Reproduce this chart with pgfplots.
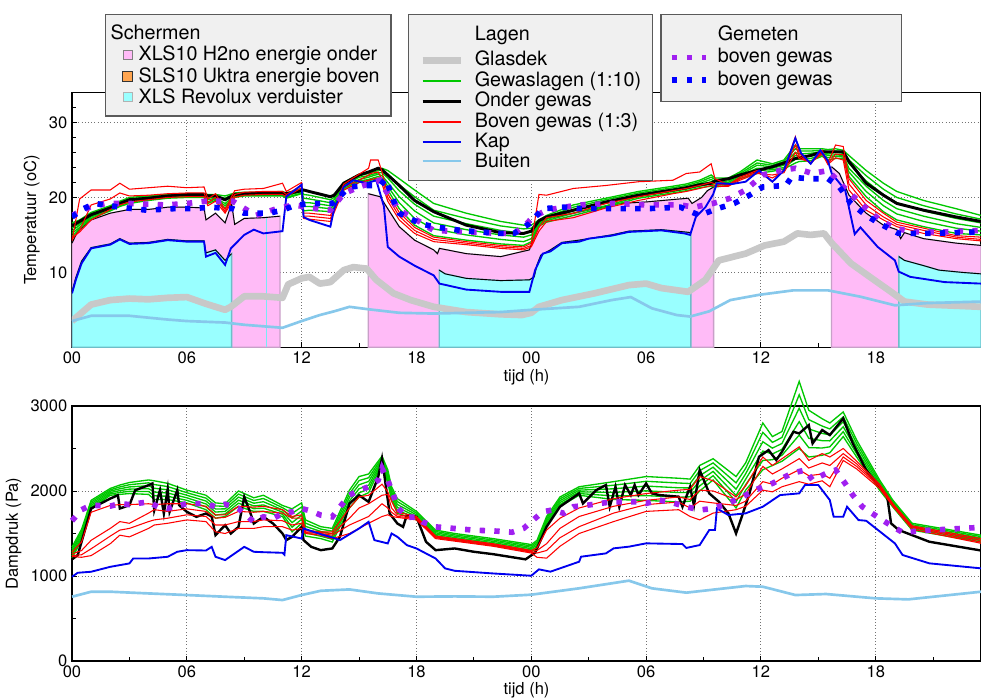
\documentclass[border=0pt]{standalone}
\usepackage{fontspec}
\setmainfont{TeX Gyre Heros}
\usepackage{pgfplots}
\usepackage{pgfplotstable}
\pgfplotsset{compat=1.18}

\definecolor{pinkfill}{RGB}{255,187,247}
\definecolor{pinkedge}{RGB}{200,160,200}
\definecolor{cyanfill}{RGB}{153,255,255}
\definecolor{cyanedge}{RGB}{110,190,200}
\definecolor{cyanthin}{RGB}{120,235,245}
\definecolor{orangefill}{RGB}{255,165,80}
\definecolor{grn}{RGB}{0,200,0}
\definecolor{skyb}{RGB}{135,200,235}
\definecolor{glas}{RGB}{200,200,200}
\definecolor{purp}{RGB}{160,32,240}
\definecolor{kapblue}{RGB}{0,0,240}
\definecolor{legfill}{RGB}{240,240,240}
\definecolor{legdraw}{RGB}{90,90,90}

\newcommand\legfont{\fontsize{14.8}{15.3}\selectfont}
\newcommand\tickfont{\fontsize{12.4}{14}\selectfont}

% ---------- top plot: crop layers (green), onder gewas, boven gewas (red) ----------
\pgfplotstableread{
t g1 g2 g3 g4 g5 g6 on r1 r2 r3
0.0 16.6 16.2 15.9 15.5 15.2 14.8 16.2 14.2 14.4 14.6
0.4 17.0 16.8 16.5 16.3 16.0 15.8 16.8 19.8 15.6 15.4
1.0 18.0 17.8 17.7 17.5 17.4 17.2 17.7 21.0 19.0 17.0
2.0 18.9 18.8 18.6 18.5 18.3 18.2 18.6 21.0 19.8 18.4
2.5 19.5 19.4 19.2 19.1 18.9 18.8 19.2 21.9 20.6 19.0
3.0 20.0 19.8 19.7 19.5 19.4 19.2 19.7 21.1 20.2 19.4
4.0 20.2 20.1 20.0 19.8 19.7 19.6 19.9 21.3 20.3 19.7
5.0 20.4 20.3 20.2 20.1 20.0 19.9 20.2 21.5 20.5 20.0
6.0 20.5 20.4 20.3 20.2 20.1 20.0 20.4 21.3 20.6 20.1
6.9 20.5 20.4 20.3 20.2 20.1 20.0 20.4 21.4 20.6 20.1
7.1 20.4 20.2 19.9 19.7 19.4 19.2 20.2 19.8 19.3 18.9
7.5 20.4 20.2 20.1 19.9 19.8 19.6 20.2 20.5 20.0 19.5
8.0 20.2 19.9 19.6 19.2 18.9 18.6 19.7 18.4 18.1 17.9
8.5 20.6 20.5 20.4 20.2 20.1 20.0 20.4 20.9 20.4 20.0
9.0 20.7 20.6 20.5 20.4 20.3 20.2 20.5 21.1 20.7 20.3
10.0 20.7 20.6 20.5 20.4 20.3 20.2 20.5 21.2 20.8 20.4
11.0 20.8 20.7 20.6 20.4 20.3 20.2 20.5 21.9 20.8 20.4
11.2 20.6 20.5 20.3 20.2 20.0 19.9 20.5 20.8 20.4 20.1
12.0 21.2 21.1 20.9 20.8 20.6 20.5 20.9 22.0 21.6 21.3
12.1 21.0 20.4 19.9 19.3 18.8 18.2 21.0 17.9 17.5 17.2
12.4 20.8 20.3 19.8 19.3 18.8 18.3 20.8 17.9 17.5 17.1
13.5 20.1 19.7 19.3 18.9 18.5 18.1 20.1 17.6 17.2 16.8
13.7 20.3 20.0 19.7 19.3 19.0 18.7 20.3 18.5 18.3 18.0
14.2 22.0 21.8 21.6 21.4 21.2 21.0 21.9 21.8 21.4 21.0
15.0 23.1 22.9 22.7 22.4 22.2 22.0 23.0 23.1 22.3 22.0
15.5 23.4 23.2 22.9 22.7 22.4 22.2 23.4 23.9 23.0 22.3
15.6 23.5 23.3 23.0 22.8 22.5 22.3 23.5 25.0 23.2 22.4
16.0 23.9 23.6 23.3 23.1 22.8 22.5 23.9 25.0 23.4 22.6
16.2 23.9 23.6 23.3 22.9 22.6 22.3 23.7 23.4 22.4 21.8
16.5 23.6 23.1 22.6 22.0 21.5 21.0 23.0 20.5 20.0 19.5
17.1 22.5 21.7 20.9 20.1 19.3 18.5 21.6 18.0 17.5 17.0
17.9 21.0 20.1 19.1 18.2 17.2 16.3 19.6 16.0 15.6 15.2
18.9 19.2 18.3 17.5 16.6 15.8 14.9 18.1 14.7 14.4 14.1
20.6 17.9 17.2 16.5 15.7 15.0 14.3 16.3 14.1 13.9 13.7
22.4 16.8 16.2 15.6 15.0 14.4 13.8 15.3 13.6 13.4 13.2
23.6 16.3 15.8 15.2 14.7 14.1 13.6 15.2 13.4 13.2 13.0
24.0 16.3 15.9 15.4 15.0 14.5 14.1 15.5 13.9 13.6 13.4
24.4 17.0 16.8 16.7 16.5 16.4 16.2 16.9 20.4 16.0 15.5
24.8 17.6 17.4 17.2 17.1 16.9 16.7 17.4 20.3 17.3 16.8
26.2 19.0 18.7 18.4 18.2 17.9 17.6 18.3 21.2 17.9 17.3
27.9 19.9 19.7 19.4 19.2 18.9 18.7 19.4 21.6 19.2 18.6
29.6 20.8 20.6 20.4 20.3 20.1 19.9 20.3 22.1 20.1 19.6
31.4 21.5 21.3 21.1 21.0 20.8 20.6 21.0 22.3 20.9 20.5
32.1 21.8 21.6 21.4 21.3 21.1 20.9 21.3 23.2 21.2 20.8
32.8 22.3 22.1 21.9 21.7 21.5 21.3 21.7 23.4 21.6 21.2
33.4 23.0 22.7 22.4 22.1 21.8 21.5 21.9 24.5 22.0 21.6
33.6 22.6 22.4 22.1 21.9 21.6 21.4 22.2 22.5 21.8 21.5
34.3 22.6 22.4 22.2 22.0 21.8 21.6 22.5 21.7 21.6 21.5
34.9 23.4 23.2 23.0 22.9 22.7 22.5 23.0 22.7 22.5 22.3
35.8 25.0 24.6 24.3 23.9 23.6 23.2 23.6 23.6 23.4 23.2
36.6 24.5 24.3 24.1 23.9 23.7 23.5 24.1 22.1 22.6 23.0
37.2 25.0 24.8 24.5 24.3 24.0 23.8 24.6 23.7 23.5 23.3
37.8 27.0 26.5 26.0 25.6 25.1 24.6 25.2 28.1 27.0 26.0
38.0 26.5 26.2 25.8 25.5 25.1 24.8 25.3 25.9 25.5 25.2
38.6 26.5 26.2 25.9 25.5 25.2 24.9 25.6 24.5 24.6 24.7
39.2 26.5 26.3 26.1 25.9 25.7 25.5 26.1 26.3 26.0 25.8
39.5 26.4 26.1 25.8 25.6 25.3 25.0 26.1 24.6 24.5 24.4
39.9 26.5 26.2 26.0 25.7 25.5 25.2 26.1 27.0 25.8 25.3
40.3 26.3 26.1 25.9 25.6 25.4 25.2 26.1 26.8 25.7 25.0
40.6 25.6 25.0 24.5 23.9 23.4 22.8 24.8 22.5 21.8 21.0
41.5 23.6 22.9 22.2 21.5 20.8 20.1 21.9 19.6 19.0 18.3
42.4 21.9 21.1 20.4 19.6 18.9 18.1 20.3 17.9 17.4 17.0
43.1 20.8 20.0 19.3 18.5 17.8 17.0 19.2 16.7 16.4 16.1
44.5 19.6 18.9 18.2 17.5 16.8 16.1 18.3 15.9 15.6 15.2
46.2 18.5 17.8 17.2 16.5 15.9 15.2 17.4 14.9 14.7 14.5
47.5 17.6 17.1 16.6 16.0 15.5 15.0 16.8 14.7 14.4 14.2
}\topc

% ---------- bottom plot: crop layers (green), boven gewas (red) ----------
\pgfplotstableread{
t g1 g2 g3 g4 g5 g6 r1 r2 r3 r4
0.0 1340 1314 1288 1262 1236 1210 1280 1260 1240 1230
0.5 1550 1524 1498 1472 1446 1420 1400 1300 1250 1220
1.0 1890 1870 1850 1830 1810 1790 1750 1420 1320 1240
2.0 2030 2014 1998 1982 1966 1950 1830 1560 1470 1380
2.5 2070 2048 2026 2004 1982 1960 1840 1640 1540 1480
3.0 2100 2074 2048 2022 1996 1970 1840 1620 1560 1460
4.0 2130 2096 2062 2028 1994 1960 1850 1740 1640 1560
4.3 2120 2076 2032 1988 1944 1900 1840 1780 1660 1600
5.0 2090 2052 2014 1976 1938 1900 1850 1760 1680 1620
6.0 2010 1980 1950 1920 1890 1860 1850 1790 1720 1660
7.0 1950 1916 1882 1848 1814 1780 1820 1760 1700 1640
7.5 1860 1824 1788 1752 1716 1680 1720 1680 1600 1520
8.0 1850 1820 1790 1760 1730 1700 1720 1690 1600 1500
8.7 2000 1964 1928 1892 1856 1820 1820 1760 1640 1560
9.5 1920 1888 1856 1824 1792 1760 1810 1750 1640 1560
10.0 1950 1912 1874 1836 1798 1760 1820 1760 1660 1580
11.0 1830 1804 1778 1752 1726 1700 1780 1740 1650 1580
11.5 1790 1736 1682 1628 1574 1520 1700 1680 1600 1540
12.0 1860 1812 1764 1716 1668 1620 1720 1680 1620 1560
12.2 1660 1622 1584 1546 1508 1470 1540 1520 1510 1500
13.0 1580 1552 1524 1496 1468 1440 1520 1510 1500 1480
13.6 1560 1528 1496 1464 1432 1400 1520 1500 1480 1440
14.5 2010 1968 1926 1884 1842 1800 1800 1680 1600 1500
15.0 2170 2122 2074 2026 1978 1930 1930 1800 1650 1560
15.5 2200 2156 2112 2068 2024 1980 1950 1850 1700 1620
16.2 2410 2392 2374 2356 2338 2320 2080 1950 1850 1700
16.5 2250 2220 2190 2160 2130 2100 1990 1960 1800 1720
16.7 2050 2018 1986 1954 1922 1890 1880 1800 1750 1700
17.0 1910 1876 1842 1808 1774 1740 1750 1720 1700 1690
18.0 1760 1740 1720 1700 1680 1660 1700 1690 1680 1660
19.0 1540 1524 1508 1492 1476 1460 1470 1460 1450 1440
20.0 1500 1484 1468 1452 1436 1420 1440 1430 1420 1410
22.0 1440 1424 1408 1392 1376 1360 1380 1370 1360 1350
24.0 1370 1354 1338 1322 1306 1290 1300 1290 1280 1270
24.3 1420 1400 1380 1360 1340 1320 1330 1300 1270 1220
24.8 1700 1676 1652 1628 1604 1580 1540 1380 1300 1210
25.5 1930 1908 1886 1864 1842 1820 1680 1560 1450 1350
26.5 2050 2030 2010 1990 1970 1950 1800 1700 1580 1500
28.3 2110 2068 2026 1984 1942 1900 1910 1820 1740 1640
30.0 2170 2114 2058 2002 1946 1890 1970 1890 1840 1760
31.7 2150 2094 2038 1982 1926 1870 2010 1930 1870 1780
32.3 2140 2088 2036 1984 1932 1880 2020 1900 1800 1700
32.8 2300 2240 2180 2120 2060 2000 2170 2010 1880 1660
33.5 2380 2330 2280 2230 2180 2130 2120 2000 1860 1740
34.7 2170 2096 2022 1948 1874 1800 1930 1900 1830 1780
35.2 2330 2266 2202 2138 2074 2010 2060 1960 1880 1820
36.1 2800 2690 2580 2470 2360 2250 2400 2290 2110 2010
36.6 2640 2572 2504 2436 2368 2300 2300 2200 2080 1990
37.1 2700 2630 2560 2490 2420 2350 2380 2260 2150 2050
38.0 3290 3132 2974 2816 2658 2500 2520 2380 2250 2110
38.5 2950 2840 2730 2620 2510 2400 2360 2270 2180 2080
39.2 2850 2764 2678 2592 2506 2420 2440 2330 2200 2120
39.6 2800 2730 2660 2590 2520 2450 2400 2300 2150 2050
40.3 2930 2872 2814 2756 2698 2640 2500 2440 2400 2360
41.0 2600 2560 2520 2480 2440 2400 2350 2320 2290 2260
42.2 2130 2106 2082 2058 2034 2010 2080 2060 2050 2030
42.9 1890 1874 1858 1842 1826 1810 1850 1840 1830 1820
43.9 1620 1604 1588 1572 1556 1540 1590 1580 1570 1550
47.5 1480 1464 1448 1432 1416 1400 1440 1420 1400 1385
}\botc

\pgfplotsset{
  chart/.style={
    scale only axis, width=681.75pt, xmin=0, xmax=47.5,
    anchor=south west,
    xtick={0,6,...,42}, xticklabels={00,06,12,18,00,06,12,18},
    minor xtick={3,9,...,45},
    xmajorgrids, ymajorgrids,
    grid style={dotted, line width=0.7pt, black!55},
    tick pos=left, tick align=inside,
    major tick length=4pt, minor tick length=3pt,
    tick style={black, line width=0.7pt},
    axis line style={line width=0.8pt},
    tick label style={font=\tickfont},
    label style={font=\tickfont},
    /pgf/number format/assume math mode=true,
    /pgf/number format/1000 sep={},
    xlabel={tijd (h)},
    xlabel style={yshift=3pt},
  },
  dots/.style={line width=4.2pt, dash pattern=on 4pt off 7pt},
  legbox/.style={hide axis, scale only axis, at={(0pt,0pt)}, anchor=south west,
    width=735.75pt, height=524.25pt, xmin=0, xmax=1, ymin=0, ymax=1,
    legend cell align=left,
    legend style={anchor=north west, fill=legfill, draw=legdraw, line width=1.1pt,
      font=\legfont, row sep=0pt, nodes={inner sep=0.6pt, text depth=}}},
}

\begin{document}
\begin{tikzpicture}
\path[use as bounding box] (0pt,0pt) rectangle (735.75pt,524.25pt);

% ================= TOP AXIS =================
\begin{axis}[chart, at={(54pt,263.8pt)}, height=191pt, ymin=0, ymax=34,
  ytick={10,20,30}, minor ytick={2,4,...,32},
  ylabel={Temperatuur (oC)}]
% screens: energie onder (pink) up to its temperature line
\addplot[fill=pinkfill, draw=pinkedge, line width=1pt] coordinates {
(0,13.9) (0.3,15.5) (1,17.0) (2,17.9) (3,18.4) (4,18.4) (5,18.7) (6,18.7) (6.9,18.6)
(7,17.0) (7.5,17.9) (8,16.6) (8.34,19.2) (8.5,16.4) (9,17.2) (10,17.3) (10.87,17.5)} \closedcycle;
\addplot[fill=pinkfill, draw=pinkedge, line width=1pt] coordinates {
(15.48,20.5) (16.1,20.1) (16.5,18.5) (17.1,16.1) (17.9,14.3) (18.9,13.0) (19.1,12.5)
(19.2,13.2) (20.6,12.5) (22.4,12.1) (23.9,13.0) (24.3,16.0) (24.5,17.0) (26.2,17.9)
(28.6,19.2) (30,19.4) (32.2,19.9) (32.4,19.2) (32.9,20.0) (33.2,20.9) (33.53,21.4)} \closedcycle;
\addplot[fill=pinkfill, draw=pinkedge, line width=1pt] coordinates {
(39.69,24.1) (40.1,23.2) (40.6,20.3) (41.5,17.9) (42.4,16.3) (43.1,15.7) (43.3,14.5)
(43.5,15.3) (44.5,14.5) (46.2,13.9) (47.5,13.6)} \closedcycle;
% screens: verduister (cyan) up to its temperature line
\addplot[fill=cyanfill, draw=cyanedge, line width=1pt] coordinates {
(0,7.4) (0.2,9.3) (0.5,11.5) (1,13.3) (2,13.8) (2.5,14.5) (3,13.9) (4,14.0) (5,14.4)
(6,14.2) (6.9,14.2) (7,12.6) (7.5,13.0) (8,11.6) (8.34,12.5)} \closedcycle;
\addplot[fill=cyanfill, draw=cyanedge, line width=1pt] coordinates {
(19.19,10.3) (19.5,9.8) (20.6,9.2) (22.4,8.9) (23.9,9.0) (24.15,9.4) (24.3,11.0)
(24.5,12.3) (25.0,13.0) (25.6,14.0) (26.5,14.3) (28.2,15.0) (29.1,15.5) (30.8,15.7)
(32.0,15.4) (32.34,15.3)} \closedcycle;
\addplot[fill=cyanfill, draw=cyanedge, line width=1pt] coordinates {
(43.21,12.1) (43.5,11.6) (44.5,10.9) (45.3,10.3) (46.5,10.0) (47.5,9.8)} \closedcycle;
\addplot[cyanthin, line width=1.2pt] coordinates {(10.17,0) (10.17,17.3)};
% screen temperature lines (thin black)
\addplot[black, line width=0.7pt] coordinates {
(0,13.9) (0.3,15.5) (1,17.0) (2,17.9) (3,18.4) (4,18.4) (5,18.7) (6,18.7) (6.9,18.6)
(7,17.0) (7.5,17.9) (8,16.6) (8.34,19.2) (8.5,16.4) (9,17.2) (10,17.3) (10.87,17.5)};
\addplot[black, line width=0.7pt] coordinates {
(15.48,20.5) (16.1,20.1) (16.5,18.5) (17.1,16.1) (17.9,14.3) (18.9,13.0) (19.1,12.5)
(19.2,13.2) (20.6,12.5) (22.4,12.1) (23.9,13.0) (24.3,16.0) (24.5,17.0) (26.2,17.9)
(28.6,19.2) (30,19.4) (32.2,19.9) (32.4,19.2) (32.9,20.0) (33.2,20.9) (33.53,21.4)};
\addplot[black, line width=0.7pt] coordinates {
(39.69,24.1) (40.1,23.2) (40.6,20.3) (41.5,17.9) (42.4,16.3) (43.1,15.7) (43.3,14.5)
(43.5,15.3) (44.5,14.5) (46.2,13.9) (47.5,13.6)};
\addplot[black, line width=0.7pt] coordinates {
(0,7.4) (0.2,9.3) (0.5,11.5) (1,13.3) (2,13.8) (2.5,14.5) (3,13.9) (4,14.0) (5,14.4)
(6,14.2) (6.9,14.2) (7,12.6) (7.5,13.0) (8,11.6) (8.34,12.5)};
\addplot[black, line width=0.7pt] coordinates {
(19.19,10.3) (19.5,9.8) (20.6,9.2) (22.4,8.9) (23.9,9.0) (24.15,9.4) (24.3,11.0)
(24.5,12.3) (25.0,13.0) (25.6,14.0) (26.5,14.3) (28.2,15.0) (29.1,15.5) (30.8,15.7)
(32.0,15.4) (32.34,15.3)};
\addplot[black, line width=0.7pt] coordinates {
(43.21,12.1) (43.5,11.6) (44.5,10.9) (45.3,10.3) (46.5,10.0) (47.5,9.8)};
% Glasdek
\addplot[glas, line width=5pt, line join=round] coordinates {
(0,3.5) (0.5,4.6) (1,5.7) (2,6.3) (3,6.5) (4,6.4) (5,6.6) (6,6.7) (7,5.8) (8,5.0)
(8.3,5.4) (9,6.8) (10,6.8) (11,6.6) (11.3,8.4) (12,9.2) (12.4,9.4) (12.95,8.5) (13.5,8.7)
(14.2,10.3) (14.7,10.7) (15.4,10.5) (15.9,9.0) (16.8,7.2) (17.7,6.3) (18.9,5.4) (20.6,4.7)
(22.4,4.4) (23.5,4.3) (24,4.6) (24.4,5.4) (25.6,6.3) (27.3,7.2) (29.1,8.3) (30,8.5)
(30.8,7.9) (32.2,7.4) (33.1,9.0) (33.8,11.6) (35.2,12.5) (36.2,13.6) (37.2,14.1)
(37.9,15.2) (38.6,15.0) (39.3,15.2) (39.7,13.9) (40.7,11.2) (41.8,9.2) (42.8,7.4)
(43.5,6.1) (44.7,5.7) (47.5,5.4)};
% Buiten
\addplot[skyb, line width=2pt] coordinates {
(0,3.5) (1,4.2) (3,4.2) (5,3.7) (6,3.5) (8,3.3) (9,3.0) (10,2.8) (11,2.6) (12,3.5)
(12.95,4.3) (13.7,4.8) (14.5,5.4) (15.4,5.1) (17.1,4.6) (18.9,4.5) (20.6,4.6) (22.4,4.7)
(24,5.0) (26.5,5.4) (28.2,6.3) (29.2,6.7) (30.3,5.2) (31.6,4.3) (32.3,4.1) (33.3,4.8)
(34.4,6.3) (35.9,7.0) (37.7,7.6) (39.5,7.6) (41.2,6.75) (43,5.6) (44.7,5.9) (47.5,6.1)};
% Gewaslagen
\pgfplotsinvokeforeach{g6,g5,g4,g3,g2,g1}{
  \addplot[grn, line width=1pt] table[x=t, y=#1] {\topc};
}
% Onder gewas
\addplot[black, line width=2.2pt] table[x=t, y=on] {\topc};
% Boven gewas
\pgfplotsinvokeforeach{r3,r2,r1}{
  \addplot[red, line width=0.8pt] table[x=t, y=#1] {\topc};
}
% Kap
\addplot[kapblue, line width=1.4pt] coordinates {
(0,7.2) (0.2,9.0) (0.5,11.2) (1,13.2) (2,13.7) (2.5,14.4) (3,13.8) (4,13.9) (5,14.3)
(6,14.1) (6.9,14.1) (7,12.1) (7.5,12.6) (8,11.0) (8.3,13.2) (9,15.0) (9.5,15.7) (10,15.2)
(11,15.5) (11.2,20.1) (12,21.7) (12.1,17.4) (12.4,17.0) (13.5,16.1) (13.7,18.5) (14.2,21.4)
(14.7,22.3) (15.4,21.9) (15.9,22.3) (16.3,18.8) (16.5,13.4) (17.1,12.1) (17.9,10.9)
(18.9,9.6) (19.2,8.5) (20.6,7.7) (22.4,7.4) (23.9,7.4) (24.2,10.3) (24.6,12.5) (25.0,12.8)
(25.6,13.9) (26.5,14.1) (27,14.5) (28.2,14.9) (29.1,15.4) (30.8,15.6) (32.0,15.2)
(32.3,15.0) (32.6,17.4) (33.1,18.7) (33.5,20.4) (33.7,21.9) (34.5,21.8) (35.2,22.1)
(35.9,23.6) (36.6,22.1) (37.2,23.6) (37.8,27.9) (38.1,25.9) (38.6,24.5) (39.1,26.3)
(39.5,24.9) (39.7,23.2) (40.4,21.0) (40.9,15.1) (41.2,16.0) (42.1,13.4) (43.0,11.6)
(43.2,10.1) (43.8,9.4) (45.6,8.7) (47.5,8.5)};
% Gemeten (purple)
\addplot[purp, dots] coordinates {
(0,17.6) (1,18.8) (1.8,19.2) (3,19.2) (4.9,19.0) (6,19.2) (7,19.5) (8.4,19.5) (9.6,17.6)
(10.7,18.5) (11.6,19.0) (12.8,18.5) (13.5,18.3) (14.2,20.5) (15.0,21.4) (16.1,22.3)
(16.4,20.9) (17.1,18.3) (18.2,16.7) (18.9,15.6) (20.6,15.4) (22.4,15.2) (23.1,15.2)
(23.6,16.1) (24.1,17.4) (24.8,18.3) (25.7,18.7) (26.5,19.0) (28.3,19.2) (30,19.0)
(31.8,19.0) (32.5,18.7) (33.5,19.2) (34.4,19.9) (35.2,21.0) (36.1,23.0) (37.0,23.6)
(37.8,23.9) (38.7,23.2) (39.5,23.6) (40.4,21.2) (41.3,19.0) (42.2,17.0) (43.0,15.9)
(43.9,15.4) (45.6,15.4) (47.5,15.6)};
% Gemeten (blue)
\addplot[blue, dots] coordinates {
(0,17.4) (0.6,18.5) (1.2,19.2) (2.5,18.7) (3.9,18.3) (5.3,18.5) (6.3,18.5) (7.2,18.7)
(8.4,18.5) (9.0,17.9) (10.3,17.9) (11.0,18.3) (11.6,18.9) (12.4,19.2) (13.6,19.2)
(14.5,21.4) (15.4,21.6) (16.1,21.6) (16.4,22.5) (16.8,19.6) (17.1,17.9) (18.2,16.5)
(18.9,16.1) (20.3,15.6) (22.4,15.2) (23.1,15.2) (23.9,16.5) (24.6,18.5) (25.7,18.7)
(26.5,18.5) (28.3,18.5) (30,18.5) (31.8,18.7) (32.8,17.6) (33.7,18.5) (34.6,19.2)
(35.4,20.3) (36.1,21.4) (37.3,21.6) (37.6,22.7) (38.5,22.5) (39.5,22.5) (40.1,21.4)
(40.7,19.2) (41.5,17.6) (42.2,16.5) (43.2,15.2) (44.8,15.2) (47.5,15.4)};
\end{axis}

% ================= BOTTOM AXIS =================
\begin{axis}[chart, at={(54pt,28.5pt)}, height=191.25pt, ymin=0, ymax=3000,
  ytick={0,1000,2000,3000}, minor ytick={500,1500,2500},
  ylabel={Dampdruk (Pa)}, clip=false]
% Buiten
\addplot[skyb, line width=2pt] coordinates {
(0,756) (1,815) (2,815) (4,795) (6,776) (8,756) (10,737) (11,717) (12,776) (13,826)
(14.5,842) (16,795) (18,756) (20,760) (22,756) (24,780) (26.5,855) (29.1,945) (30.3,855)
(32.1,804) (35.2,882) (36.1,874) (37.8,776) (39.4,788) (42,737) (43.7,725) (47.5,815)};
% Gewaslagen
\pgfplotsinvokeforeach{g6,g5,g4,g3,g2,g1}{
  \addplot[grn, line width=1pt] table[x=t, y=#1] {\botc};
}
% Onder gewas
\addplot[black, line width=1.8pt] coordinates {
(0,1195) (0.3,1246) (1,1794) (2,1911) (2.4,1950) (2.5,1794) (3,1833) (3.3,2009) (4,2068)
(4.2,2088) (4.3,1774) (4.6,2009) (4.8,1735) (5,2020) (5.1,1755) (5.5,2009) (5.6,1833)
(6,1755) (6.5,1696) (7,1735) (7.3,1700) (7.5,1481) (8,1598) (8.3,1500) (8.7,1578)
(9,1931) (9.3,1755) (9.5,1618) (10,1696) (10.5,1618) (11,1500) (11.2,1422) (11.5,1461)
(12,1578) (12.1,1422) (12.5,1343) (13,1304) (13.6,1324) (14,1461) (14.5,1853) (15,1950)
(15.5,1872) (16,2166) (16.2,2382) (16.6,1735) (17,1618) (17.3,1578) (17.5,1716) (18,1696)
(18.5,1402) (19,1304) (20,1324) (21,1285) (22,1257) (23.7,1196) (24.2,1274) (24.8,1580)
(25.5,1815) (26.5,1972) (26.7,1854) (27.4,2011) (27.9,2070) (28.1,1815) (28.4,2050)
(28.6,1815) (28.9,2070) (29.2,1952) (29.4,2070) (29.6,1952) (30,2089) (30.3,1972)
(30.7,1952) (31.7,1933) (31.9,1815) (32.3,2050) (32.5,1830) (32.8,2246) (33.3,1972)
(33.8,1874) (34.3,1737) (34.7,1501) (35,1697) (35.4,1972) (35.9,2403) (36.4,2481)
(36.8,2364) (37.1,2462) (37.7,2697) (38,2677) (38.5,2775) (38.7,2560) (39.2,2717)
(39.6,2658) (40.3,2854) (40.8,2560) (41.5,2246) (42.2,2050) (42.6,1933) (42.8,1619)
(43.2,1541) (44.8,1403) (47.5,1300)};
% Boven gewas
\pgfplotsinvokeforeach{r4,r3,r2,r1}{
  \addplot[red, line width=0.8pt] table[x=t, y=#1] {\botc};
}
% Kap
\addplot[kapblue, line width=1.4pt] coordinates {
(0,991) (0.3,1038) (1,1050) (2,1108) (3,1148) (3.2,1206) (4,1206) (5,1226) (5.5,1285)
(6,1304) (7,1300) (7.3,1343) (7.5,1226) (8,1187) (8.5,1265) (9,1343) (9.5,1285)
(10,1280) (11,1273) (11.1,1250) (11.2,1480) (12,1441) (12.1,1559) (13,1492) (13.6,1453)
(14,1422) (15,1559) (15.5,1637) (15.8,1422) (16.5,1383) (16.7,1500) (17,1461) (17.5,1363)
(18,1324) (19,1206) (19.5,1089) (20,1061) (22,1030) (24,1003) (24.4,1078) (25,1051)
(26.5,1168) (26.6,1227) (27.9,1266) (28.3,1325) (29.1,1345) (30,1384) (31.9,1376)
(32.1,1330) (32.8,1364) (33.3,1541) (33.6,1541) (33.7,1795) (34.3,1717) (35.2,1737)
(36.1,1815) (37,1952) (38,1972) (38.3,2070) (39,2070) (39.6,1893) (39.8,1697) (40.3,1697)
(40.5,1815) (41.1,1658) (41.5,1650) (43,1384) (43.4,1247) (44.8,1149) (47.5,1090)};
% Gemeten
\addplot[purp, dots] coordinates {
(0,1650) (0.5,1780) (1,1833) (2,1822) (2.5,1852) (3,1840) (4,1872) (4.5,1813) (5,1794)
(6,1852) (7,1852) (7.5,1813) (8,1845) (8.7,1794) (9.5,1637) (10,1696) (10.5,1676)
(11,1735) (11.5,1755) (12,1794) (12.5,1763) (13,1716) (13.6,1696) (14,1813) (14.5,1950)
(15,2009) (15.5,2049) (16,2127) (16.2,2264) (16.5,2127) (16.8,1950) (17,1813) (17.5,1688)
(18,1696) (18.3,1637) (19,1578) (20,1559) (21,1539) (22,1531) (23,1515) (23.6,1560)
(24.1,1658) (24.6,1756) (25.1,1776) (25.7,1737) (26.2,1815) (27,1835) (27.6,1854)
(28.3,1874) (29.5,1874) (30,1854) (30.7,1893) (31.4,1860) (32.1,1815) (32.8,1776)
(33.5,1795) (34.3,1854) (35.2,1952) (35.9,2031) (36.6,2089) (37.6,2207) (38.3,2246)
(38.7,2129) (39.4,2207) (39.9,2246) (40.4,2089) (40.8,1952) (41.3,1815) (42.2,1678)
(42.9,1580) (43.4,1513) (44.9,1541) (45.6,1548) (46.5,1560) (47.5,1572)};
\end{axis}

% ================= LEGENDS =================
\begin{axis}[legbox, legend style={at={(0.107,0.98)}, inner xsep=8pt, inner ysep=7pt,
  /tikz/every odd column/.append style={column sep=4pt}}]
\addlegendimage{empty legend}
\addlegendentry{\hspace*{-21pt}Schermen\rule[-2.9pt]{0pt}{10pt}}
\addlegendimage{only marks, mark=square*, mark size=3.6pt, mark options={fill=pinkfill, draw=gray, line width=0.6pt}}
\addlegendentry{XLS10 H2no energie onder\rule[-1.75pt]{0pt}{13.45pt}}
\addlegendimage{only marks, mark=square*, mark size=3.6pt, mark options={fill=orangefill, draw=black!80, line width=0.8pt}}
\addlegendentry{SLS10 Uktra energie boven\rule[-1.75pt]{0pt}{13.45pt}}
\addlegendimage{only marks, mark=square*, mark size=3.6pt, mark options={fill=cyanfill, draw=gray!60, line width=0.6pt}}
\addlegendentry{XLS Revolux verduister\rule[-1.6pt]{0pt}{13.3pt}}
\end{axis}

\begin{axis}[legbox, legend style={at={(0.4159,0.98)}, inner xsep=8pt, inner ysep=8pt,
  /tikz/every odd column/.append style={column sep=7.5pt}},
  legend image code/.code={\draw[#1] (0pt,0pt) -- (28.5pt,0pt);}]
\addlegendimage{empty legend}
\addlegendentry{Lagen\rule[-6.5pt]{0pt}{16.5pt}}
\addlegendimage{line width=5pt, color=glas, draw=glas}
\addlegendentry{Glasdek\rule[-3.1pt]{0pt}{13.95pt}}
\addlegendimage{line width=1.3pt, color=grn, draw=grn}
\addlegendentry{Gewaslagen (1:10)\rule[-3.1pt]{0pt}{13.95pt}}
\addlegendimage{line width=2.2pt, color=black, draw=black}
\addlegendentry{Onder gewas\rule[-3.1pt]{0pt}{13.95pt}}
\addlegendimage{line width=1pt, color=red, draw=red}
\addlegendentry{Boven gewas (1:3)\rule[-3.1pt]{0pt}{13.95pt}}
\addlegendimage{line width=1.4pt, color=kapblue, draw=kapblue}
\addlegendentry{Kap\rule[-3.1pt]{0pt}{13.95pt}}
\addlegendimage{line width=2pt, color=skyb, draw=skyb}
\addlegendentry{Buiten\rule[-0.8pt]{0pt}{11.65pt}}
\end{axis}

\begin{axis}[legbox, legend style={at={(0.6728,0.98)}, inner xsep=6pt, inner ysep=8pt,
  /tikz/every odd column/.append style={column sep=6pt}},
  legend image code/.code={\draw[#1] (0pt,0pt) -- (26pt,0pt);}]
\addlegendimage{empty legend}
\addlegendentry{Gemeten\rule[-3.3pt]{0pt}{13.3pt}}
\addlegendimage{line width=4.2pt, color=purp, draw=purp, dash pattern=on 4pt off 7.5pt}
\addlegendentry{\makebox[131pt][l]{boven gewas}\rule[-4.05pt]{0pt}{16.05pt}}
\addlegendimage{line width=4.2pt, color=blue, draw=blue, dash pattern=on 4pt off 7.5pt}
\addlegendentry{\makebox[131pt][l]{boven gewas}\rule[-2.2pt]{0pt}{14.2pt}}
\end{axis}
\end{tikzpicture}
\end{document}
